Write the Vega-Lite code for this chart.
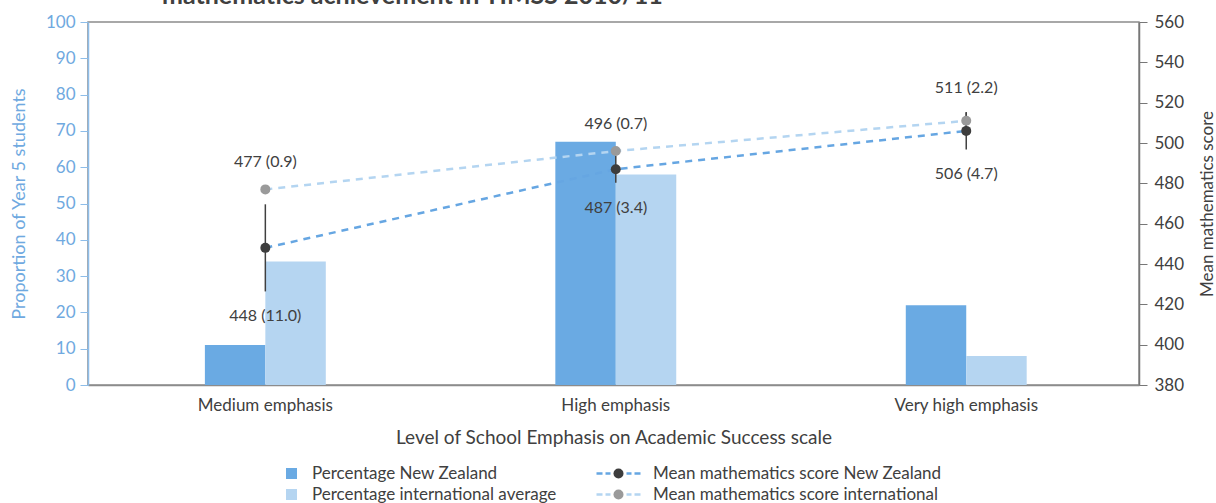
{
  "$schema": "https://vega.github.io/schema/vega-lite/v6.json",
  "width": 1051,
  "height": 363,
  "autosize": {"type": "none"},
  "padding": {"left": 88, "top": 22, "right": 77, "bottom": 118},
  "background": "white",
  "title": {
    "text": "mathematics achievement in TIMSS 2010/11",
    "fontSize": 25,
    "fontWeight": "bold",
    "color": "#404040",
    "anchor": "start",
    "frame": "group",
    "dx": 74,
    "baseline": "alphabetic",
    "offset": -16
  },
  "config": {
    "font": "Lato",
    "view": {"stroke": "#8c8c8c", "strokeWidth": 1.5},
    "axis": {"grid": false, "labelFont": "Lato", "titleFont": "Lato", "titleFontWeight": "normal"},
    "legend": {"labelFont": "Lato", "labelLimit": 400}
  },
  "datasets": {
    "bars": [
      {"level": "Medium emphasis", "series": "Percentage New Zealand", "pct": 11},
      {"level": "Medium emphasis", "series": "Percentage international average", "pct": 34},
      {"level": "High emphasis", "series": "Percentage New Zealand", "pct": 67},
      {"level": "High emphasis", "series": "Percentage international average", "pct": 58},
      {"level": "Very high emphasis", "series": "Percentage New Zealand", "pct": 22},
      {"level": "Very high emphasis", "series": "Percentage international average", "pct": 8}
    ],
    "scores": [
      {"level": "Medium emphasis", "series": "Mean mathematics score New Zealand", "line_series": "NZ line", "group": "nz", "score": 448, "lo": 426.4, "hi": 469.6, "label": "448 (11.0)"},
      {"level": "High emphasis", "series": "Mean mathematics score New Zealand", "line_series": "NZ line", "group": "nz", "score": 487, "lo": 480.3, "hi": 493.7, "label": "487 (3.4)"},
      {"level": "Very high emphasis", "series": "Mean mathematics score New Zealand", "line_series": "NZ line", "group": "nz", "score": 506, "lo": 496.8, "hi": 515.2, "label": "506 (4.7)"},
      {"level": "Medium emphasis", "series": "Mean mathematics score international", "line_series": "International line", "group": "intl", "score": 477, "lo": 475.2, "hi": 478.8, "label": "477 (0.9)"},
      {"level": "High emphasis", "series": "Mean mathematics score international", "line_series": "International line", "group": "intl", "score": 496, "lo": 494.6, "hi": 497.4, "label": "496 (0.7)"},
      {"level": "Very high emphasis", "series": "Mean mathematics score international", "line_series": "International line", "group": "intl", "score": 511, "lo": 506.7, "hi": 515.3, "label": "511 (2.2)"}
    ]
  },
  "encoding": {
    "x": {
      "field": "level",
      "type": "nominal",
      "sort": ["Medium emphasis", "High emphasis", "Very high emphasis"],
      "scale": {"paddingInner": 0.655, "paddingOuter": 0.327, "align": 0.51},
      "axis": {
        "title": "Level of School Emphasis on Academic Success scale",
        "labelAngle": 0,
        "ticks": false,
        "labelFontSize": 17,
        "labelColor": "#404040",
        "labelPadding": 12,
        "titleFontSize": 19,
        "titleColor": "#404040",
        "titlePadding": 15,
        "domainColor": "#8c8c8c",
        "domainWidth": 1.5
      }
    }
  },
  "layer": [
    {
      "data": {"name": "bars"},
      "mark": {"type": "bar"},
      "encoding": {
        "xOffset": {"field": "series", "type": "nominal", "sort": ["Percentage New Zealand", "Percentage international average"], "scale": {"paddingInner": 0, "paddingOuter": 0}},
        "y": {
          "field": "pct",
          "type": "quantitative",
          "scale": {"domain": [0, 100], "nice": false},
          "axis": {
            "orient": "left",
            "title": "Proportion of Year 5 students",
            "values": [0, 10, 20, 30, 40, 50, 60, 70, 80, 90, 100],
            "labelColor": "#6fa9e0",
            "titleColor": "#6fa9e0",
            "domainColor": "#8dbde9",
            "tickColor": "#8dbde9",
            "domainWidth": 1.5,
            "tickSize": 8,
            "labelPadding": 5,
            "labelFontSize": 17,
            "titleFontSize": 18,
            "titlePadding": 17
          }
        },
        "fill": {
          "field": "series",
          "type": "nominal",
          "scale": {"domain": ["Percentage New Zealand", "Percentage international average"], "range": ["#6aaae3", "#b5d5f1"]},
          "legend": {
            "orient": "none",
            "legendX": 195,
            "legendY": 443,
            "title": null,
            "direction": "vertical",
            "symbolType": "square",
            "symbolSize": 121,
            "symbolStrokeWidth": 0,
            "labelFontSize": 17,
            "labelColor": "#404040",
            "labelOffset": 12,
            "rowPadding": 3,
            "padding": 0
          }
        }
      }
    },
    {
      "data": {"name": "scores"},
      "layer": [
        {
          "mark": {"type": "line", "strokeDash": [7, 6], "strokeWidth": 2.5},
          "encoding": {
            "y": {
              "field": "score",
              "type": "quantitative",
              "title": "Mean mathematics score",
              "scale": {"domain": [380, 560], "nice": false, "zero": false},
              "axis": {
                "orient": "right",
                "title": "Mean mathematics score",
                "values": [380, 400, 420, 440, 460, 480, 500, 520, 540, 560],
                "labelColor": "#404040",
                "titleColor": "#404040",
                "domainColor": "#777777",
                "tickColor": "#777777",
                "domainWidth": 1.5,
                "tickSize": 8,
                "labelPadding": 7,
                "labelFontSize": 17,
                "titleFontSize": 17,
                "titleAngle": 270,
                "titleBaseline": "top",
                "titlePadding": 16
              }
            },
            "stroke": {
              "field": "line_series",
              "type": "nominal",
              "scale": {"domain": ["NZ line", "International line"], "range": ["#66a6e2", "#b4d5f1"]},
              "legend": {
                "orient": "none",
                "legendX": 522,
                "legendY": 443,
                "title": null,
                "direction": "vertical",
                "symbolType": "M-4.4,0H-3.2M-2.6,0H-1.6M1.6,0H2.6M3.2,0H4.4",
                "symbolSize": 100,
                "symbolStrokeWidth": 2.5,
                "symbolFillColor": "transparent",
                "labelFontSize": 17,
                "labelColor": "#404040",
                "labelExpr": "''",
                "labelOffset": 26,
                "rowPadding": 3,
                "padding": 0
              }
            }
          }
        },
        {
          "mark": {"type": "rule", "color": "#404040", "strokeWidth": 1.5},
          "encoding": {
            "y": {"field": "lo", "type": "quantitative", "title": "Mean mathematics score"},
            "y2": {"field": "hi"}
          }
        },
        {
          "mark": {"type": "point", "filled": true, "size": 100, "opacity": 1},
          "encoding": {
            "y": {"field": "score", "type": "quantitative", "title": "Mean mathematics score"},
            "color": {
              "field": "series",
              "type": "nominal",
              "scale": {"domain": ["Mean mathematics score New Zealand", "Mean mathematics score international"], "range": ["#3d3d3d", "#9a9a9a"]},
              "legend": {
                "orient": "none",
                "legendX": 522,
                "legendY": 443,
                "title": null,
                "direction": "vertical",
                "symbolType": "circle",
                "symbolSize": 100,
                "symbolOpacity": 1,
                "symbolStrokeWidth": 0,
                "labelFontSize": 17,
                "labelColor": "#404040",
                "labelOffset": 26,
                "rowPadding": 3,
                "padding": 0
              }
            }
          }
        },
        {
          "transform": [{"filter": "datum.group == 'intl'"}],
          "mark": {"type": "text", "dy": -24, "fontSize": 16, "color": "#404040"},
          "encoding": {
            "y": {"field": "hi", "type": "quantitative", "title": "Mean mathematics score"},
            "text": {"field": "label"}
          }
        },
        {
          "transform": [{"filter": "datum.group == 'nz'"}],
          "mark": {"type": "text", "dy": 25, "fontSize": 16, "color": "#404040"},
          "encoding": {
            "y": {"field": "lo", "type": "quantitative", "title": "Mean mathematics score"},
            "text": {"field": "label"}
          }
        }
      ]
    }
  ],
  "resolve": {"scale": {"y": "independent"}}
}
